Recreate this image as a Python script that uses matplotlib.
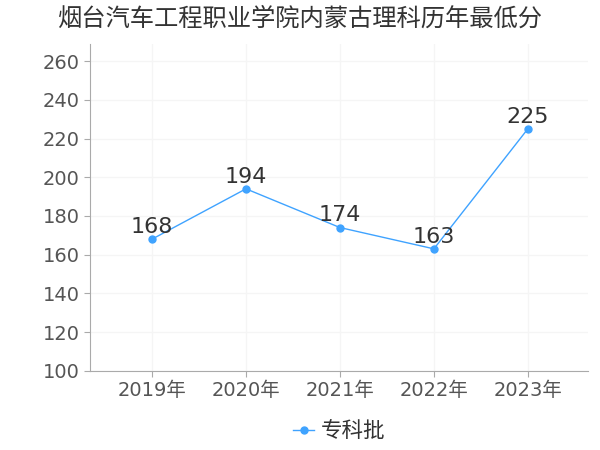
import matplotlib
matplotlib.use("Agg")
import matplotlib.pyplot as plt

plt.rcParams['font.family'] = ['DejaVu Sans', 'Noto Sans CJK SC']

# data
years = ['2019年', '2020年', '2021年', '2022年', '2023年']
scores = [168, 194, 174, 163, 225]
series_name = '专科批'

fig = plt.figure(figsize=(6, 4.5), dpi=100)
ax = fig.add_axes([0.15, 0.176, 0.83, 0.727])

x = list(range(len(years)))
ax.plot(x, scores, color='#3fa3ff', linewidth=1, marker='o', markersize=5, label=series_name)

# value labels
for i, v in zip(x, scores):
    ax.text(i, v + 1.2, str(v), ha='center', va='bottom', fontsize=16, color='#333333')

ax.set_xlim(-0.66, 4.64)
ax.set_ylim(100, 269)
ax.set_yticks(range(100, 261, 20))
ax.set_xticks(x)
ax.set_xticklabels(years)
ax.tick_params(axis='both', labelsize=14, length=4, colors='#aaaaaa', labelcolor='#555555')

ax.grid(True, color='#f5f5f5', linewidth=1)
ax.set_axisbelow(True)
ax.spines['top'].set_visible(False)
ax.spines['right'].set_visible(False)
ax.spines['left'].set_color('#aaaaaa')
ax.spines['bottom'].set_color('#aaaaaa')

fig.text(0.5, 0.958, '烟台汽车工程职业学院内蒙古理科历年最低分', ha='center', va='center', fontsize=17.5, color='#333333')

ax.legend(loc='upper center', bbox_to_anchor=(0.5, -0.095), frameon=False, fontsize=15.5,
          handlelength=1.0, handletextpad=0.3, labelcolor='#333333')

fig.savefig('out.png', dpi=100)
